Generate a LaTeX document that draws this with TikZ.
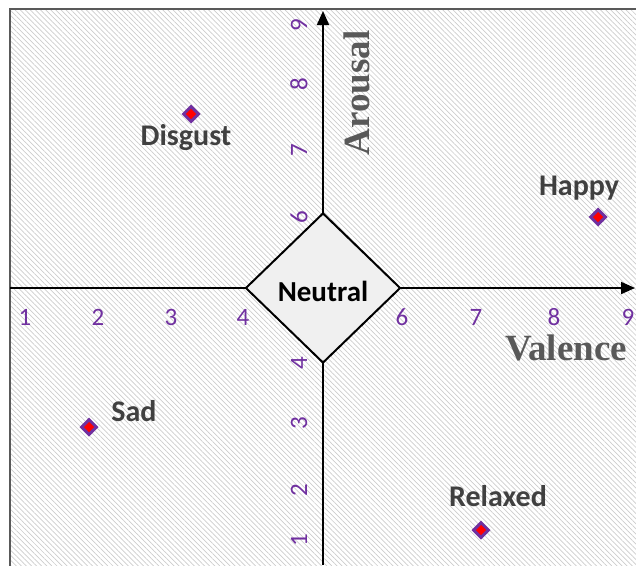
\documentclass[tikz,border=0pt]{standalone}
\usepackage{fontspec}
\usetikzlibrary{shapes.geometric,arrows.meta,patterns.meta}
\newfontfamily\calib{Carlito}
\newfontfamily\serifb{Liberation Serif}
\definecolor{ppl}{HTML}{7030A0}
\definecolor{lblgray}{HTML}{404040}
\definecolor{axgray}{HTML}{595959}
\definecolor{hatch}{HTML}{CCCCCC}
\tikzset{
  axisline/.style={line width=2pt,-{Triangle[length=14pt,width=12pt]}},
  tickx/.style={text=ppl,font=\calib\fontsize{25}{25}\selectfont,inner sep=0pt},
  ticky/.style={text=ppl,font=\calib\fontsize{25}{25}\selectfont,inner sep=0pt,rotate=90},
  emo/.style={text=lblgray,font=\calib\bfseries\fontsize{30}{30}\selectfont,inner sep=0pt},
  marker/.style={diamond,fill=red,draw=ppl,line width=3pt,minimum size=16pt,inner sep=0pt},
  axlabel/.style={text=axgray,font=\serifb\bfseries\fontsize{37}{37}\selectfont,inner sep=0pt}
}
\begin{document}
\begin{tikzpicture}[x=1pt,y=-1pt]
\useasboundingbox (0,0) rectangle (636,565);
\begin{scope}
\clip (0,0) rectangle (636,565);
\fill[pattern={Lines[angle=-45,distance=3.6pt,line width=0.7pt]},pattern color=hatch] (10,9) rectangle (650,580);
\draw[black!65,line width=2pt] (10,9) rectangle (650,580);
\end{scope}
% axes
\coordinate (xl) at (10,288);
\coordinate (xr) at (635,288);
\coordinate (yb) at (323,565);
\coordinate (yt) at (323,11);
\draw[line width=2pt] (xl) -- (323,288);
\draw[axisline] (323,288) -- (xr);
\draw[line width=2pt] (yb) -- (323,288);
\draw[axisline] (323,288) -- (yt);
% neutral diamond
\node[draw,line width=2pt,fill=black!6,minimum width=155pt,minimum height=150pt,inner sep=0pt,shape=diamond,aspect=1.03] (neutral) at (323,288) {};
\node[font=\calib\bfseries\fontsize{29}{29}\selectfont,inner sep=0pt] (neutraltxt) at (323,291) {Neutral};
% ticks x
\node[tickx] (x1) at (25,317) {1};
\node[tickx] (x2) at (98,317) {2};
\node[tickx] (x3) at (171,317) {3};
\node[tickx] (x4) at (243,317) {4};
\node[tickx] (x6) at (402,317) {6};
\node[tickx] (x7) at (476,317) {7};
\node[tickx] (x8) at (554,317) {8};
\node[tickx] (x9) at (628,317) {9};
% ticks y
\node[ticky] (y9) at (299,25) {9};
\node[ticky] (y8) at (299,84) {8};
\node[ticky] (y7) at (299,150) {7};
\node[ticky] (y6) at (299,217) {6};
\node[ticky] (y4) at (299,363) {4};
\node[ticky] (y3) at (299,423) {3};
\node[ticky] (y2) at (299,490) {2};
\node[ticky] (y1) at (299,540) {1};
% axis labels
\node[axlabel,rotate=90] (arousal) at (357,93) {Arousal};
\node[axlabel] (valence) at (566,348) {Valence};
% emotions
\node[marker] (mdisgust) at (191,114) {};
\node[emo] (disgust) at (186,138) {Disgust};
\node[marker] (mhappy) at (598,217) {};
\node[emo] (happy) at (579,188) {Happy};
\node[marker] (msad) at (89,427) {};
\node[emo] (sad) at (134,411) {Sad};
\node[marker] (mrelaxed) at (481,530) {};
\node[emo] (relaxed) at (498,496) {Relaxed};
\end{tikzpicture}
\end{document}
